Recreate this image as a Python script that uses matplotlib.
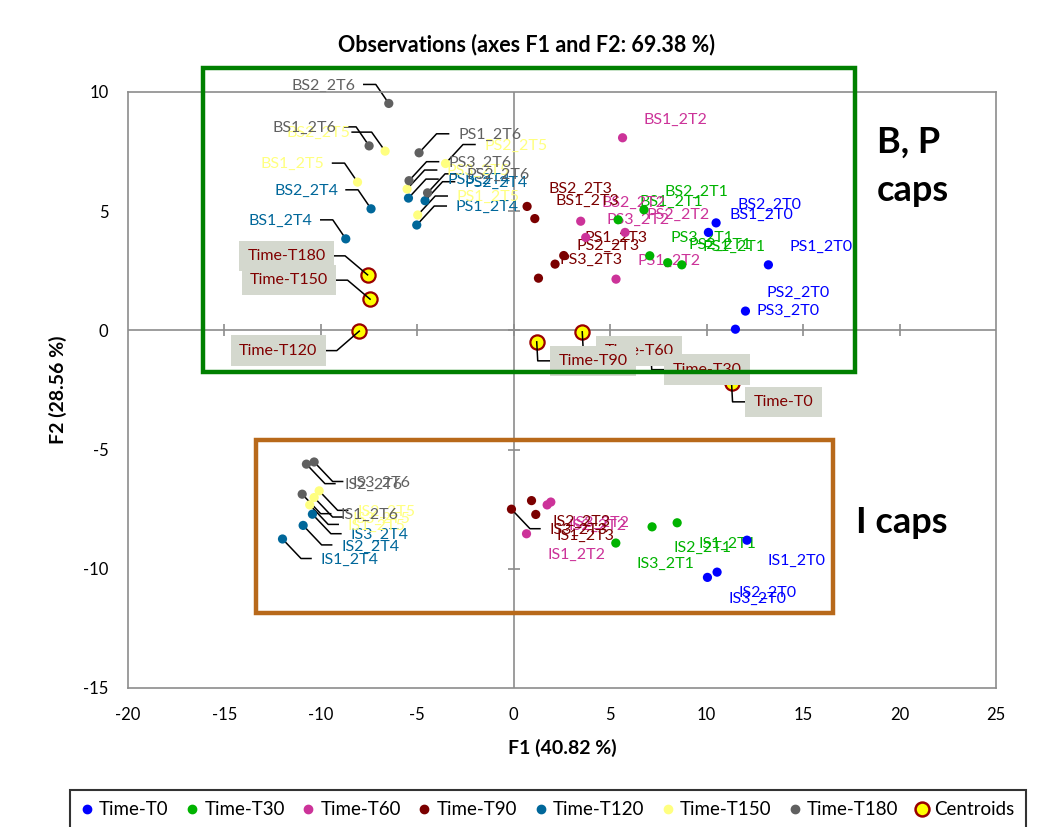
import matplotlib
matplotlib.use('Agg')
import matplotlib.pyplot as plt
import matplotlib.transforms as mtransforms
from matplotlib.lines import Line2D
from matplotlib.patches import Rectangle

plt.rcParams['font.family'] = ['Lato', 'DejaVu Sans']
plt.rcParams['axes.unicode_minus'] = False

# ---------------- data ----------------
t0_labels = ['BS2_2T0', 'BS1_2T0', 'PS1_2T0', 'PS2_2T0', 'PS3_2T0', 'IS1_2T0', 'IS2_2T0', 'IS3_2T0']
t0_f1 = [10.49, 10.09, 13.20, 12.01, 11.49, 12.09, 10.54, 10.04]
t0_f2 = [4.51, 4.11, 2.75, 0.81, 0.05, -8.80, -10.14, -10.36]

t30_labels = ['BS2_2T1', 'BS1_2T1', 'PS3_2T1', 'PS2_2T1', 'PS1_2T1', 'IS2_2T1', 'IS1_2T1', 'IS3_2T1']
t30_f1 = [6.75, 5.41, 7.05, 7.98, 8.71, 7.17, 8.47, 5.29]
t30_f2 = [5.06, 4.64, 3.13, 2.84, 2.75, -8.24, -8.07, -8.92]

t60_labels = ['BS1_2T2', 'BS2_2T2', 'PS3_2T2', 'PS2_2T2', 'PS1_2T2', 'IS2_2T2', 'IS3_2T2', 'IS1_2T2']
t60_f1 = [5.64, 3.47, 3.73, 5.77, 5.30, 1.73, 1.92, 0.66]
t60_f2 = [8.08, 4.58, 3.90, 4.11, 2.15, -7.32, -7.20, -8.53]

t90_labels = ['BS2_2T3', 'BS1_2T3', 'PS1_2T3', 'PS2_2T3', 'PS3_2T3', 'IS3_2T3', 'IS2_2T3', 'IS1_2T3']
t90_f1 = [0.69, 1.09, 2.59, 2.14, 1.28, -0.12, 0.92, 1.14]
t90_f2 = [5.20, 4.69, 3.14, 2.78, 2.19, -7.50, -7.14, -7.72]

t120_labels = ['BS2_2T4', 'BS1_2T4', 'PS3_2T4', 'PS2_2T4', 'PS1_2T4', 'IS3_2T4', 'IS2_2T4', 'IS1_2T4']
t120_f1 = [-7.40, -8.71, -5.46, -4.60, -5.03, -10.44, -10.92, -11.99]
t120_f2 = [5.10, 3.84, 5.55, 5.44, 4.42, -7.71, -8.18, -8.75]

t150_labels = ['BS2_2T5', 'BS1_2T5', 'PS2_2T5', 'PS3_2T5', 'PS1_2T5', 'IS2_2T5', 'IS3_2T5', 'IS1_2T5']
t150_f1 = [-6.67, -8.10, -3.54, -5.53, -4.98, -10.09, -10.35, -10.58]
t150_f2 = [7.52, 6.22, 7.00, 5.93, 4.84, -6.73, -7.01, -7.32]

t180_labels = ['BS2_2T6', 'BS1_2T6', 'PS1_2T6', 'PS3_2T6', 'PS2_2T6', 'IS2_2T6', 'IS3_2T6', 'IS1_2T6']
t180_f1 = [-6.48, -7.50, -4.91, -5.43, -4.47, -10.75, -10.35, -10.97]
t180_f2 = [9.52, 7.74, 7.45, 6.28, 5.77, -5.61, -5.52, -6.87]

centroid_labels = ['Time-T0', 'Time-T30', 'Time-T60', 'Time-T90', 'Time-T120', 'Time-T150', 'Time-T180']
centroid_f1 = [11.29, 7.10, 3.55, 1.19, -8.01, -7.45, -7.58]
centroid_f2 = [-2.20, -0.85, -0.06, -0.48, -0.03, 1.31, 2.33]

x_ticks = [-20, -15, -10, -5, 0, 5, 10, 15, 20, 25]
y_ticks = [-15, -10, -5, 0, 5, 10]

title = 'Observations (axes F1 and F2: 69.38 %)'
x_label = 'F1 (40.82 %)'
y_label = 'F2 (28.56 %)'

# ---------------- styles / layout ----------------
series = [
    ('Time-T0', t0_labels, t0_f1, t0_f2, '#0000ff'),
    ('Time-T30', t30_labels, t30_f1, t30_f2, '#00b300'),
    ('Time-T60', t60_labels, t60_f1, t60_f2, '#cc3399'),
    ('Time-T90', t90_labels, t90_f1, t90_f2, '#7b0000'),
    ('Time-T120', t120_labels, t120_f1, t120_f2, '#00679a'),
    ('Time-T150', t150_labels, t150_f1, t150_f2, '#ffff80'),
    ('Time-T180', t180_labels, t180_f1, t180_f2, '#606060'),
]

# label placement patterns (pixel offsets from the point, y up)
patterns = {
    'ar': dict(text=(21, 18), ha='left', leader=None),
    'br': dict(text=(21, -21), ha='left', leader=None),
    'L': dict(text=(-33, 18), ha='right', leader=[(-13, 19), (-25, 19)]),
    'L2': dict(text=(-35, 18), ha='right', leader=[(-13.5, 19), (-33, 19)]),
    'R': dict(text=(39, 18), ha='left', leader=[(17.5, 19), (29.5, 19)]),
    'BR': dict(text=(38, -21), ha='left', leader=[(18.5, -19.5), (28.5, -19.5)]),
    'CUL': dict(text=(-42, 19), ha='right', leader=[(-22.5, 19), (-33.5, 19)]),
    'CDL': dict(text=(-42, -19.5), ha='right', leader=[(-22.5, -19.5), (-34, -19.5)]),
    'CDR': dict(text=(22, -19), ha='left', leader=[(1, -19), (14, -19)]),
}
label_style = {
    'BS2_2T6': 'L', 'BS1_2T6': 'L', 'BS2_2T5': 'L2', 'BS1_2T5': 'L', 'BS2_2T4': 'L', 'BS1_2T4': 'L',
    'PS1_2T6': 'R', 'PS2_2T5': 'R', 'PS3_2T6': 'R', 'PS3_2T5': 'R', 'PS2_2T6': 'R',
    'PS3_2T4': 'R', 'PS2_2T4': 'R', 'PS1_2T5': 'R', 'PS1_2T4': 'R',
    'IS1_2T6': 'BR', 'IS2_2T6': 'BR', 'IS3_2T6': 'BR', 'IS1_2T5': 'BR', 'IS2_2T5': 'BR',
    'IS3_2T5': 'BR', 'IS1_2T4': 'BR', 'IS2_2T4': 'BR', 'IS3_2T4': 'BR', 'IS3_2T3': 'BR',
}
centroid_style = {'Time-T0': 'CDR', 'Time-T30': 'CDR', 'Time-T60': 'CDR', 'Time-T90': 'CDR',
                  'Time-T120': 'CDL', 'Time-T150': 'CUL', 'Time-T180': 'CUL'}
centroid_box_order = ['Time-T180', 'Time-T150', 'Time-T120', 'Time-T60', 'Time-T90', 'Time-T30', 'Time-T0']

FS = 11.5
W, H = 1039, 827
fig = plt.figure(figsize=(W / 100, H / 100), dpi=100)
ax = fig.add_axes([128 / W, 1 - 688 / H, (996 - 128) / W, (688 - 92) / H])

axis_grey = '#8c8c8c'
for sp in ax.spines.values():
    sp.set_color(axis_grey)
    sp.set_linewidth(1.2)

ax.axhline(0, color=axis_grey, lw=1.2, zorder=1)
ax.axvline(0, color=axis_grey, lw=1.2, zorder=1)
ax.plot(x_ticks[1:-1], [0] * len(x_ticks[1:-1]), ls='none', marker='|', ms=8.5,
        mew=1.2, color=axis_grey, zorder=1)
ax.plot([0] * len(y_ticks[1:-1]), y_ticks[1:-1], ls='none', marker='_', ms=8.5,
        mew=1.2, color=axis_grey, zorder=1)

ax.set_xticks(x_ticks)
ax.set_yticks(y_ticks)
ax.tick_params(length=0, labelsize=12, pad=14, colors='black')
ax.set_xlabel(x_label, fontsize=14, fontweight='bold', labelpad=11)
ax.set_ylabel(y_label, fontsize=14, fontweight='bold', labelpad=12)


def offset_trans(x, y):
    return mtransforms.Affine2D() + mtransforms.ScaledTranslation(x, y, ax.transData)


def draw_leader(x, y, pat, z):
    if pat['leader'] is None:
        return
    (ex, ey), (hx, hy) = pat['leader']
    ln = Line2D([0, ex, hx], [0, ey, hy], color='black', lw=1.1,
                transform=offset_trans(x, y), zorder=z, clip_on=False)
    ax.add_line(ln)


handles = []
for name, labels, f1, f2, col in series:
    ax.scatter(f1, f2, s=44, color=col, edgecolors='none', zorder=3)
    for lab, x, y in zip(labels, f1, f2):
        code = label_style.get(lab, 'br' if y < -3 else 'ar')
        pat = patterns[code]
        draw_leader(x, y, pat, 2.4)
        ax.annotate(lab, xy=(x, y), xytext=pat['text'], textcoords='offset pixels',
                    ha=pat['ha'], va='center', color=col, fontsize=FS, zorder=2.5)
    handles.append(Line2D([], [], ls='none', marker='o', ms=6, color=col, label=name))

ax.scatter(centroid_f1, centroid_f2, s=105, facecolor='#ffff00', edgecolor='#990000',
           linewidths=1.6, zorder=4)
handles.append(Line2D([], [], ls='none', marker='o', ms=10, markerfacecolor='#ffff00',
                      markeredgecolor='#990000', mew=1.8, label='Centroids'))

for lab in centroid_box_order:
    i = centroid_labels.index(lab)
    x, y = centroid_f1[i], centroid_f2[i]
    pat = patterns[centroid_style[lab]]
    draw_leader(x, y, pat, 4.5)
    ax.annotate(lab, xy=(x, y), xytext=pat['text'], textcoords='offset pixels',
                ha=pat['ha'], va='center', color='#800000', fontsize=FS, zorder=5,
                bbox=dict(boxstyle='square,pad=0.52', fc='#d4d8ce', ec='none'))

# group frames
ax.add_patch(Rectangle((-16.12, -1.74), 33.8, 12.75, fill=False, ec='#008000', lw=3.2,
                       clip_on=False, zorder=10))
ax.add_patch(Rectangle((-13.37, -11.85), 29.91, 7.26, fill=False, ec='#b8691a', lw=3.2,
                       clip_on=False, zorder=10))

ax.set_xlim(-20, 25)
ax.set_ylim(-15, 10)

fig.text(877 / W, 1 - 153 / H, 'B, P', fontsize=26, fontweight='bold', va='baseline', ha='left')
fig.text(877 / W, 1 - 201 / H, 'caps', fontsize=26, fontweight='bold', va='baseline', ha='left')
fig.text(856 / W, 1 - 533 / H, 'I caps', fontsize=26, fontweight='bold', va='baseline', ha='left')

fig.text(527 / W, 1 - 45 / H, title, fontsize=15.5, fontweight='bold', ha='center', va='center')

leg = fig.legend(handles=handles, loc='upper left', bbox_to_anchor=(70 / W, 1 - 790 / H),
                 ncol=8, fontsize=13.5, frameon=True, fancybox=False, edgecolor='black',
                 handlelength=0.6, handletextpad=0.35, columnspacing=0.95, borderpad=0.6,
                 borderaxespad=0)
leg.get_frame().set_linewidth(1.5)

fig.savefig('out.png', dpi=100)
